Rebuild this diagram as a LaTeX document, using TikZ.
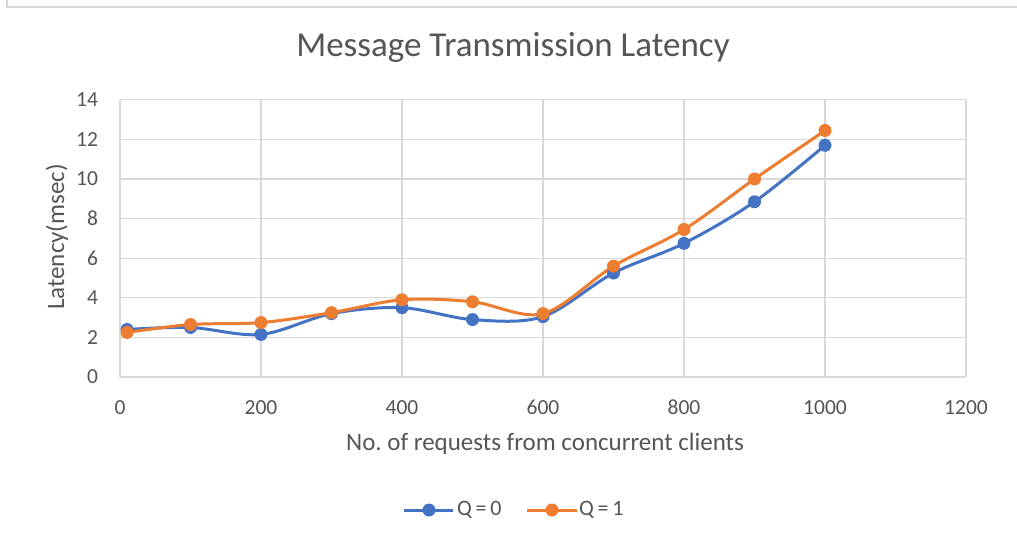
\documentclass[tikz,border=0pt]{standalone}
\usepackage{fontspec}
\setmainfont{Carlito}
\frenchspacing
\definecolor{serA}{HTML}{4472C4}
\definecolor{serB}{HTML}{ED7D31}
\definecolor{gridc}{HTML}{D9D9D9}
\definecolor{txtc}{HTML}{555555}
\tikzset{
  gridline/.style={draw=gridc, line width=1.3pt},
  frameline/.style={draw=gridc, line width=2pt},
  seriesA/.style={draw=serA, line width=3pt, line join=round, line cap=round},
  seriesB/.style={draw=serB, line width=3pt, line join=round, line cap=round},
  dotA/.style={circle, fill=serA, inner sep=0pt, minimum size=13pt},
  dotB/.style={circle, fill=serB, inner sep=0pt, minimum size=13pt},
  ticklabel/.style={text=txtc, font=\fontsize{21.5}{24}\selectfont, inner sep=0pt},
  legendlabel/.style={text=txtc, font=\fontsize{22}{24}\selectfont, inner sep=0pt},
  axistitle/.style={text=txtc, font=\fontsize{25}{28}\selectfont, inner sep=0pt},
  charttitle/.style={text=txtc, font=\fontsize{35}{40}\selectfont, inner sep=0pt},
}
\begin{document}
\begin{tikzpicture}[x=1pt, y=1pt]
\useasboundingbox[fill=white] (0,0) rectangle (1017,544);
% chart frame (top and left edges)
\draw[frameline] (7,560) -- (7,537) -- (1030,537);

% chart title
\node[charttitle] (title) at (513,497) {Message Transmission Latency};

\begin{scope}[shift={(120pt,167pt)}, x=0.705pt, y=19.8pt]
  % grid
  \foreach \yv in {0,2,...,14}
    \draw[gridline] (0,\yv) -- (1200,\yv);
  \foreach \xv in {0,200,...,1200}
    \draw[gridline] (\xv,0) -- (\xv,14);
  % tick labels
  \foreach \yv in {0,2,...,14}
    \node[ticklabel, anchor=east] (ylab\yv) at (-31,\yv) {\yv};
  \foreach \xv in {0,200,...,1200}
    \node[ticklabel] (xlab\xv) at (\xv,-1.55) {\xv};

  % series Q = 0
  \draw[seriesA] plot[smooth, tension=0.55] coordinates {
    (10,2.4) (100,2.5) (200,2.15) (300,3.2) (400,3.5) (500,2.9)
    (600,3.05) (700,5.25) (800,6.75) (900,8.85) (1000,11.7)};
  % series Q = 1
  \draw[seriesB] plot[smooth, tension=0.55] coordinates {
    (10,2.25) (100,2.65) (200,2.75) (300,3.25) (400,3.9) (500,3.8)
    (600,3.2) (700,5.6) (800,7.45) (900,10.0) (1000,12.45)};

  \foreach \xv/\yv [count=\i] in {10/2.4,100/2.5,200/2.15,300/3.2,400/3.5,500/2.9,600/3.05,700/5.25,800/6.75,900/8.85,1000/11.7}
    \node[dotA] (a\i) at (\xv,\yv) {};
  \foreach \xv/\yv [count=\i] in {10/2.25,100/2.65,200/2.75,300/3.25,400/3.9,500/3.8,600/3.2,700/5.6,800/7.45,900/10.0,1000/12.45}
    \node[dotB] (b\i) at (\xv,\yv) {};
\end{scope}

% axis titles
\node[axistitle] (xtitle) at (545,100) {No. of requests from concurrent clients};
\node[axistitle, rotate=90] (ytitle) at (57,307) {Latency(msec)};

% legend
\coordinate (lgA1) at (404,34);
\coordinate (lgA2) at (453,34);
\draw[seriesA, line cap=butt] (lgA1) -- (lgA2);
\node[dotA] (lgAdot) at (429,34) {};
\node[legendlabel, anchor=west] (lgAtext) at (457,34) {Q\,=\,0};
\coordinate (lgB1) at (527,34);
\coordinate (lgB2) at (577,34);
\draw[seriesB, line cap=butt] (lgB1) -- (lgB2);
\node[dotB] (lgBdot) at (552,34) {};
\node[legendlabel, anchor=west] (lgBtext) at (579,34) {Q\,=\,1};
\end{tikzpicture}
\end{document}
